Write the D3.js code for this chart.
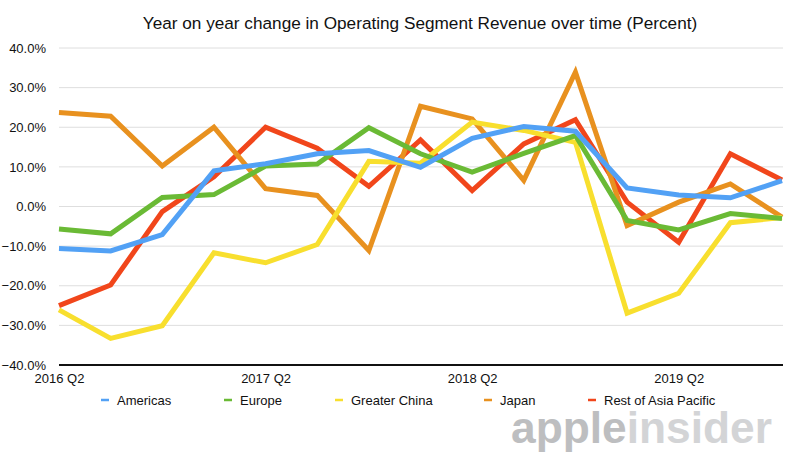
<!DOCTYPE html>
<html><head><meta charset="utf-8">
<script src="https://cdn.jsdelivr.net/npm/d3@7"></script>
<style>body{margin:0;background:#fff;}svg{display:block;font-family:"Liberation Sans",Arial,Helvetica,sans-serif;}</style>
</head><body><svg id="c" width="788" height="469"></svg>
<script>
const quarters = ["2016 Q2","2016 Q3","2016 Q4","2017 Q1","2017 Q2","2017 Q3","2017 Q4","2018 Q1","2018 Q2","2018 Q3","2018 Q4","2019 Q1","2019 Q2","2019 Q3","2019 Q4"];
const tickLabels = ["2016 Q2","2017 Q2","2018 Q2","2019 Q2"];
const yTicks = [-40,-30,-20,-10,0,10,20,30,40];
const seriesNames = ["Americas","Europe","Greater China","Japan","Rest of Asia Pacific"];
const americas = [-10.6,-11.2,-7.1,9.0,10.8,13.3,14.1,9.9,17.2,20.2,19.0,4.7,2.9,2.2,6.5];
const europe = [-5.7,-6.9,2.3,3.0,10.2,10.7,19.9,13.3,8.7,13.4,17.9,-3.5,-5.9,-1.8,-3.0];
const greaterChina = [-26.1,-33.3,-30.1,-11.7,-14.2,-9.6,11.4,10.9,21.3,19.2,16.2,-26.9,-21.9,-4.1,-2.8];
const japan = [23.7,22.8,10.2,20.0,4.5,2.8,-11.1,25.3,22.1,6.6,33.9,-4.8,1.1,5.7,-2.7];
const restAsia = [-25.0,-19.8,-1.3,7.5,20.0,14.7,5.1,16.8,4.0,15.8,21.9,1.1,-9.0,13.3,6.7];
const colors = ["#52a1f5","#6aba35","#f8df2e","#e8911f","#f1461b"];
const values = [americas, europe, greaterChina, japan, restAsia];

const svg = d3.select("#c");
const x = d3.scalePoint().domain(quarters).range([59, 782]);
const y = d3.scaleLinear().domain([-40, 40]).range([365, 48]);

svg.append("text").attr("x", 420).attr("y", 29).attr("text-anchor","middle")
  .attr("font-size", 17.2).attr("fill","#111")
  .text("Year on year change in Operating Segment Revenue over time (Percent)");

// grid
svg.append("g").selectAll("line").data(yTicks.filter(d => d > -40)).join("line")
  .attr("x1", 59).attr("x2", 783).attr("y1", d => y(d)).attr("y2", d => y(d))
  .attr("stroke", "#dedede").attr("stroke-width", 1);

// y labels
const yAxis = d3.axisLeft(y).tickValues(yTicks).tickSize(0).tickPadding(0)
  .tickFormat(d => d3.format(".1f")(d) + "%");
const gy = svg.append("g").attr("transform","translate(46,0)").call(yAxis);
gy.select(".domain").remove();
gy.selectAll("text").attr("font-size", 13).attr("fill","#111").attr("font-family","Liberation Sans, Arial, sans-serif");

// x axis
const xAxis = d3.axisBottom(x).tickValues(tickLabels).tickSize(0).tickPadding(9);
const gx = svg.append("g").attr("transform","translate(0,365)").call(xAxis);
gx.select(".domain").remove();
gx.selectAll("text").attr("font-size", 13).attr("fill","#111").attr("font-family","Liberation Sans, Arial, sans-serif");
svg.append("line").attr("x1", 59).attr("x2", 783).attr("y1", 365).attr("y2", 365)
  .attr("stroke","#111").attr("stroke-width", 2);

// lines (reverse order so Americas on top)
const line = d3.line().x((d,i) => x(quarters[i])).y(d => y(d));
const order = [4,3,2,1,0];
svg.append("g").selectAll("path").data(order).join("path")
  .attr("d", k => line(values[k]))
  .attr("fill","none").attr("stroke", k => colors[k])
  .attr("stroke-width", 5).attr("stroke-linejoin","miter").attr("stroke-miterlimit", 4);

// legend
const legendX = [101, 224, 335, 484, 588];
const lg = svg.append("g").selectAll("g").data(seriesNames).join("g")
  .attr("transform", (d,i) => `translate(${legendX[i]},400)`);
lg.append("line").attr("x1",0).attr("x2",8).attr("y1",0).attr("y2",0)
  .attr("stroke",(d,i)=>colors[i]).attr("stroke-width",2.5);
lg.append("text").attr("x",16).attr("y",5).attr("font-size",13).attr("fill","#111").text(d=>d);

// watermark
const wm = svg.append("text").attr("x", 511).attr("y", 443)
  .attr("font-size", 45).attr("font-weight","bold")
  .attr("textLength", 261).attr("lengthAdjust","spacingAndGlyphs");
wm.append("tspan").attr("fill","#bdbec0").text("apple");
wm.append("tspan").attr("fill","#d3d4d6").text("insider");
</script></body></html>
